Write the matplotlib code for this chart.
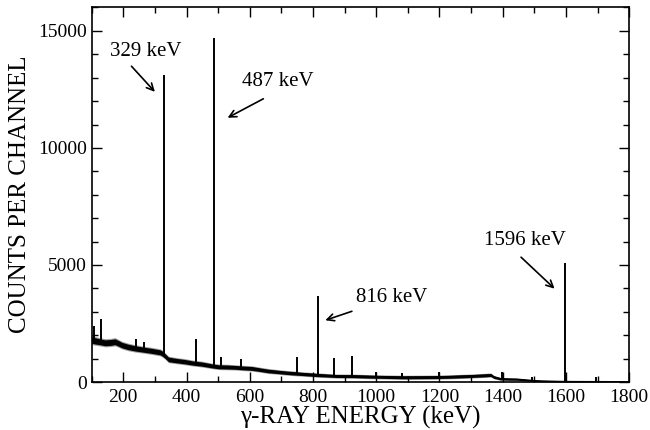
import matplotlib
matplotlib.use("Agg")
import matplotlib.pyplot as plt
from matplotlib.ticker import MultipleLocator
import numpy as np

plt.rcParams['font.family'] = ['Liberation Serif', 'DejaVu Serif']

# continuum (background): energy (keV), centre counts, half-width of noise band
bg_energy = [100, 110, 125, 143, 160, 174, 185, 196, 215, 238, 265, 290, 317, 325, 333, 343,
             370, 396, 420, 449, 480, 501, 530, 554, 580, 607, 635, 659, 690, 712, 740,
             770, 812, 845, 875, 928, 981, 1030, 1086, 1140, 1192, 1240, 1298, 1340, 1362,
             1372, 1393, 1420, 1444, 1470, 1497, 1520, 1550, 1580, 1620, 1680, 1740, 1800]
bg_counts = [1790, 1760, 1720, 1675, 1690, 1720, 1650, 1575, 1500, 1435, 1380, 1330, 1265, 1200, 1100, 965,
             910, 865, 810, 765, 690, 650, 640, 625, 600, 580, 520, 470, 430, 400, 370,
             340, 300, 275, 255, 250, 228, 215, 200, 205, 210, 225, 255, 280, 300,
             210, 135, 120, 115, 85, 55, 40, 28, 18, 12, 10, 8, 6]
bg_noise = [150, 150, 140, 140, 140, 140, 135, 130, 130, 125, 120, 120, 120, 120, 110, 110,
            105, 105, 100, 100, 95, 95, 95, 90, 90, 90, 85, 85, 80, 80, 80,
            75, 75, 70, 70, 70, 70, 70, 70, 70, 70, 70, 70, 70, 70,
            60, 50, 45, 40, 35, 30, 25, 20, 15, 12, 10, 8, 8]

# discrete gamma lines: energy, top counts, base counts
peak_energy = [106, 129, 240, 266, 329, 430, 487, 509, 572, 749, 816, 866, 922, 998, 1083, 1197, 1397, 1494, 1596, 1696]
peak_top    = [2400, 2710, 1820, 1715, 13120, 1820, 14710, 1050, 970, 1050, 3690, 1030, 1110, 440, 370, 440, 440, 200, 5090, 200]
peak_base   = [1780, 1720, 1420, 1370, 1200, 780, 690, 650, 600, 370, 290, 255, 250, 228, 200, 210, 135, 55, 18, 8]

# annotations: label, text position (x, y), arrow start, arrow tip
ann_labels = ["329 keV", "487 keV", "816 keV", "1596 keV"]
ann_text_xy = [(272, 14130), (688, 12850), (1050, 3630), (1471, 6043)]
ann_from = [(226, 13490), (643, 12100), (923, 3021), (1458, 5332)]
ann_to = [(300, 12396), (530, 11290), (839, 2638), (1564, 3987)]

fig = plt.figure(figsize=(6.5, 4.3), dpi=100)
ax = fig.add_axes([0.141, 0.1116, 0.827, 0.871])

e = np.array(bg_energy)
c = np.array(bg_counts)
w = np.array(bg_noise)
ax.fill_between(e, c - 1.25 * w, c + 1.25 * w, color='#a0a0a0', lw=0, zorder=1)
ax.fill_between(e, c - 0.9 * w, c + 0.9 * w, color='black', lw=0, zorder=2)
ax.plot(e, c, color='black', lw=1.2, zorder=3)
ax.vlines(peak_energy, peak_base, peak_top, color='black', lw=1.4, zorder=4)

for lab, txy, p0, p1 in zip(ann_labels, ann_text_xy, ann_from, ann_to):
    ax.text(txy[0], txy[1], lab, ha='center', va='center', fontsize=15)
    ax.annotate('', xy=p1, xytext=p0,
                arrowprops=dict(arrowstyle='->,head_length=0.5,head_width=0.25', color='black', lw=1.2,
                                shrinkA=0, shrinkB=0))

ax.set_xlim(100, 1800)
ax.set_ylim(0, 16000)
ax.xaxis.set_major_locator(MultipleLocator(200))
ax.xaxis.set_minor_locator(MultipleLocator(100))
ax.yaxis.set_major_locator(MultipleLocator(5000))
ax.yaxis.set_minor_locator(MultipleLocator(1000))
ax.tick_params(which='both', direction='in', top=True, right=True, labelsize=14, width=1.0)
ax.tick_params(which='major', length=7)
ax.tick_params(which='minor', length=4)
ax.tick_params(axis='x', pad=5)
for s in ax.spines.values():
    s.set_linewidth(1.2)

ax.set_xlabel('γ-RAY ENERGY (keV)', fontsize=18, labelpad=0)
ax.set_ylabel('COUNTS PER CHANNEL', fontsize=18, labelpad=5)

fig.savefig('out.png', dpi=100)
